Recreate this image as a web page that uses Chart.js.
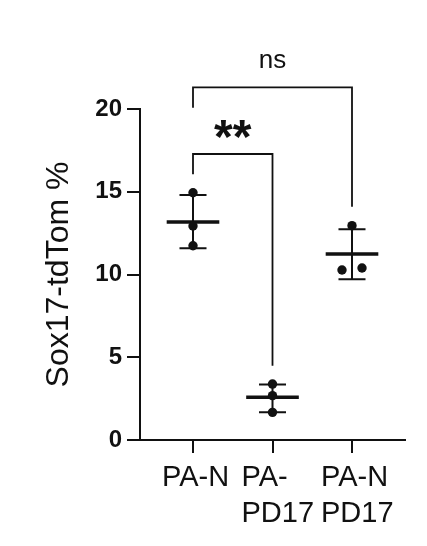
<!DOCTYPE html>
<html>
<head>
<meta charset="utf-8">
<script src="https://cdn.jsdelivr.net/npm/chart.js@4.4.1/dist/chart.umd.min.js"></script>
<style>
  html, body { margin: 0; padding: 0; background: #fff; }
  #wrap { width: 427px; height: 546px; position: relative; }
</style>
</head>
<body>
<div id="wrap"><canvas id="dotChart"></canvas></div>
<script>
/* Sox17-tdTom % — scatter with mean ± SD and significance brackets */

// ── Data ──────────────────────────────────────────────────────────────────
const categories = [['PA-N'], ['PA-', 'PD17'], ['PA-N', 'PD17']];
const dotValues  = [[14.94, 12.93, 11.74], [3.38, 2.68, 1.67], [12.95, 10.27, 10.39]];
const dotJitter  = [[0, 0, 0], [0, 0, 0], [0, -0.126, 0.126]];
const means      = [13.17, 2.58, 11.24];
const errHigh    = [14.80, 3.36, 12.73];
const errLow     = [11.58, 1.67, 9.71];
const yTicks     = [0, 5, 10, 15, 20];

// significance brackets: from category → to category
const bracketText  = ['**', 'ns'];
const bracketFrom  = [1, 1];
const bracketTo    = [2, 3];
const bracketTop   = [17.28, 21.31];
const bracketLeft  = [16.05, 20.08];
const bracketRight = [4.49, 14.1];

// ── Styling constants ─────────────────────────────────────────────────────
const FONT   = '"Liberation Sans", Arial, Helvetica, sans-serif';
const INK    = '#111';
const MEAN_W = 0.331; // half-width of mean bar (x units)
const CAP_W  = 0.17;  // half-width of SD caps

// ── Build datasets ────────────────────────────────────────────────────────
const GAP = { x: 0, y: null };

const dots = [];
dotValues.forEach((vals, i) => vals.forEach((v, j) =>
    dots.push({ x: i + 1 + dotJitter[i][j], y: v })));

const meanSegs = [];
means.forEach((m, i) => {
    meanSegs.push({ x: i + 1 - MEAN_W, y: m }, { x: i + 1 + MEAN_W, y: m }, GAP);
});

const errSegs = [];
means.forEach((m, i) => {
    const c = i + 1;
    errSegs.push({ x: c, y: errLow[i] }, { x: c, y: errHigh[i] }, GAP);
    errSegs.push({ x: c - CAP_W, y: errHigh[i] }, { x: c + CAP_W, y: errHigh[i] }, GAP);
    errSegs.push({ x: c - CAP_W, y: errLow[i] }, { x: c + CAP_W, y: errLow[i] }, GAP);
});

const bracketSegs = [];
bracketText.forEach((_, k) => {
    bracketSegs.push(
        { x: bracketFrom[k], y: bracketLeft[k] },
        { x: bracketFrom[k], y: bracketTop[k] },
        { x: bracketTo[k],   y: bracketTop[k] },
        { x: bracketTo[k],   y: bracketRight[k] },
        GAP);
});

const lineDs = (data, width) => ({
    type: 'line', data, borderColor: INK, borderWidth: width,
    pointRadius: 0, spanGaps: false, clip: false, tension: 0,
    borderCapStyle: 'butt', borderJoinStyle: 'miter'
});

// ── Significance labels ───────────────────────────────────────────────────
const bracketLabels = {
    id: 'bracketLabels',
    afterDatasetsDraw(chart) {
        const { ctx, scales: { x, y } } = chart;
        ctx.save();
        ctx.fillStyle = INK;
        ctx.textAlign = 'center';
        ctx.textBaseline = 'alphabetic';
        bracketText.forEach((t, k) => {
            const cx = (x.getPixelForValue(bracketFrom[k]) + x.getPixelForValue(bracketTo[k])) / 2;
            const top = y.getPixelForValue(bracketTop[k]);
            if (t === 'ns') {
                ctx.font = `26px ${FONT}`;
                ctx.fillText(t, cx, top - 19);
            } else {
                ctx.font = `bold 48px ${FONT}`;
                ctx.fillText(t, cx, top - 1);
            }
        });
        ctx.restore();
    }
};

// ── Chart ─────────────────────────────────────────────────────────────────
const ctx = document.getElementById('dotChart').getContext('2d');
new Chart(ctx, {
    type: 'scatter',
    data: {
        datasets: [
            {
                type: 'scatter', data: dots,
                pointRadius: 4.7, pointHoverRadius: 4.7,
                pointBackgroundColor: INK, pointBorderWidth: 0, clip: false
            },
            lineDs(meanSegs, 3.5),
            lineDs(errSegs, 2),
            lineDs(bracketSegs, 1.8)
        ]
    },
    options: {
        responsive: true,
        maintainAspectRatio: false,
        animation: false,
        layout: { padding: { top: 109, right: 22, bottom: 0, left: 0 } },
        plugins: { legend: { display: false }, tooltip: { enabled: false } },
        scales: {
            x: {
                type: 'linear',
                position: 'bottom',
                min: 1 / 3,
                max: 11 / 3,
                afterBuildTicks: s => { s.ticks = categories.map((_, i) => ({ value: i + 1 })); },
                afterFit: s => { s.height = 106; s.paddingLeft = 0; s.paddingRight = 0; },
                grid: { drawOnChartArea: false, drawTicks: true, tickLength: 13, lineWidth: 2, color: INK },
                border: { display: true, width: 2, color: INK },
                ticks: {
                    autoSkip: false,
                    maxRotation: 0,
                    align: 'start',
                    labelOffset: -31,
                    padding: 7,
                    color: INK,
                    font: { family: FONT, size: 29, lineHeight: 1.25 },
                    callback: v => categories[Math.round(v) - 1] || ''
                }
            },
            y: {
                min: 0,
                max: 20,
                afterBuildTicks: s => { s.ticks = yTicks.map(v => ({ value: v })); },
                afterFit: s => { s.width = 140; s.paddingTop = 0; s.paddingBottom = 0; },
                grid: { drawOnChartArea: false, drawTicks: true, tickLength: 13, lineWidth: 2, color: INK },
                border: { display: true, width: 2, color: INK },
                ticks: {
                    padding: 5,
                    color: INK,
                    font: { family: FONT, size: 24, weight: 'bold' }
                },
                title: {
                    display: true,
                    text: 'Sox17-tdTom %',
                    color: INK,
                    padding: { top: 40, bottom: 0 },
                    font: { family: FONT, size: 32 }
                }
            }
        }
    },
    plugins: [bracketLabels]
});
</script>
</body>
</html>
